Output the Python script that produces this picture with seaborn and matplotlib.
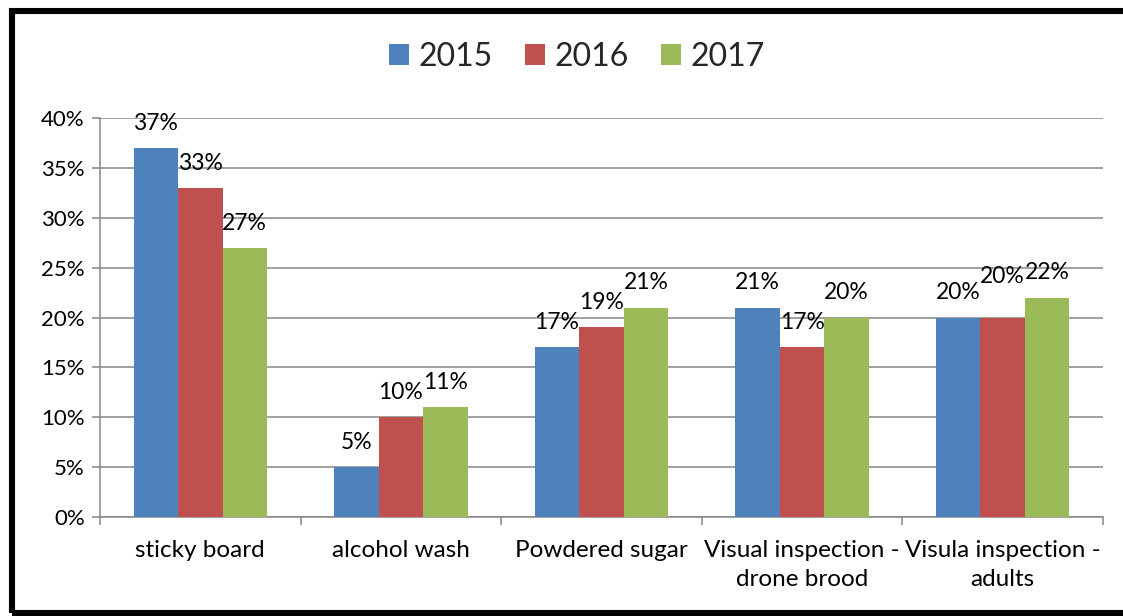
import matplotlib
matplotlib.use("Agg")
import matplotlib.pyplot as plt
from matplotlib.patches import Rectangle
from matplotlib.ticker import FuncFormatter, FixedLocator
import seaborn as sns
import pandas as pd

# Monitoring methods used, share of respondents per year (%)
methods = ["sticky board", "alcohol wash", "Powdered sugar",
           "Visual inspection -\ndrone brood", "Visula inspection -\nadults"]
years = ["2015", "2016", "2017"]
pct_2015 = [37, 5, 17, 21, 20]
pct_2016 = [33, 10, 19, 17, 20]
pct_2017 = [27, 11, 21, 20, 22]
y_ticks = [0, 5, 10, 15, 20, 25, 30, 35, 40]

colors = ["#4F81BD", "#C0504D", "#9BBB59"]
grid_gray = "#868686"

df = pd.DataFrame({
    "method": methods * 3,
    "year": [y for y in years for _ in methods],
    "pct": pct_2015 + pct_2016 + pct_2017,
})

sns.set_style("white")
plt.rcParams["font.family"] = ["Lato", "DejaVu Sans"]

fig = plt.figure(figsize=(11.23, 6.16), dpi=100)
ax = fig.add_axes([100 / 1123, 1 - 517 / 616, 1003 / 1123, 399 / 616])

sns.barplot(data=df, x="method", y="pct", hue="year", palette=colors,
            width=0.665, gap=0, saturation=1, edgecolor="none",
            linewidth=0, ax=ax, legend=True, zorder=3)

ax.set_xlim(-0.5, len(methods) - 0.5)
ax.set_ylim(0, 40)
ax.set_xlabel("")
ax.set_ylabel("")

# Gridlines and axes in Office-style gray
ax.yaxis.set_major_locator(FixedLocator(y_ticks))
ax.yaxis.set_major_formatter(FuncFormatter(lambda v, _: f"{v:.0f}%"))
ax.grid(axis="y", color=grid_gray, linewidth=1.1, zorder=0)
ax.set_axisbelow(True)
for side in ["top", "right"]:
    ax.spines[side].set_visible(False)
for side in ["left", "bottom"]:
    ax.spines[side].set_color(grid_gray)
    ax.spines[side].set_linewidth(1.1)

ax.tick_params(axis="y", which="major", left=True, length=6, width=1.1,
               color=grid_gray, labelsize=16, pad=5, labelcolor="black")
ax.tick_params(axis="x", which="major", bottom=False, labelsize=17.5, pad=13,
               labelcolor="black")
ax.set_xticks(range(len(methods)))
ax.set_xticklabels(methods, linespacing=1.5)
ax.set_xticks([i - 0.5 for i in range(len(methods) + 1)], minor=True)
ax.tick_params(axis="x", which="minor", bottom=True, length=6, width=1.1,
               color=grid_gray, direction="out")

# Value labels above each bar
extra_lift = {(1, 4): 12}
for si, container in enumerate(ax.containers):
    for ci, bar in enumerate(container):
        val = bar.get_height()
        ax.annotate(f"{val:.0f}%",
                    (bar.get_x() + bar.get_width() / 2, val),
                    xytext=(0, 13 + extra_lift.get((si, ci), 0)),
                    textcoords="offset points", ha="center", va="baseline",
                    fontsize=16.5, color="black", zorder=5,
                    annotation_clip=False)

# Legend across the top
handles, labels = ax.get_legend_handles_labels()
ax.legend_.remove()
fig.legend(handles, labels, loc="center", bbox_to_anchor=(577 / 1123, 1 - 57 / 616),
           ncol=3, frameon=False, fontsize=23, handlelength=0.63,
           handleheight=0.63, handletextpad=0.3, columnspacing=1.0,
           borderaxespad=0)

# Heavy black frame around the chart
frame = Rectangle((12 / 1123, 1 - 613 / 616), 1.05, (613 - 11) / 616,
                  transform=fig.transFigure, fill=False, edgecolor="black",
                  linewidth=4.4, clip_on=False)
fig.patches.append(frame)

fig.savefig("out.png", dpi=100)
